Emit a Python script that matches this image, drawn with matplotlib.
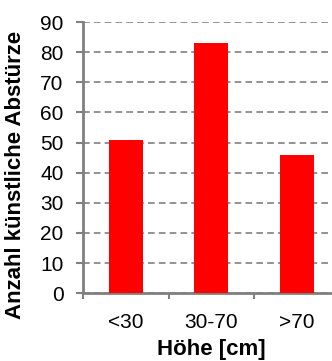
import matplotlib.pyplot as plt

plt.rcParams['font.family'] = ['Liberation Sans', 'DejaVu Sans']

# Daten
kategorien = ['<30', '30-70', '>70']
abstuerze = [51, 83, 46]

fig = plt.figure(figsize=(3.32, 3.61), dpi=100)
ax = fig.add_axes([0.25, 0.188, 0.773, 0.751])

x = range(len(kategorien))
ax.bar(x, abstuerze, width=0.4, color='#ff0000', zorder=3)

ax.set_xlim(-0.5, 2.5)
ax.set_ylim(0, 90)
ax.set_yticks(range(0, 91, 10))
ax.yaxis.grid(True, linestyle=(0, (4, 2.5)), color='#808080', linewidth=1.2, zorder=0)

# Striche zwischen den Kategorien, Beschriftung in der Mitte
ax.set_xticks([-0.5, 0.5, 1.5, 2.5])
ax.set_xticklabels([])
ax.set_xticks(list(x), minor=True)
ax.set_xticklabels(kategorien, minor=True)
ax.tick_params(axis='x', which='minor', length=0, pad=14, labelsize=15)
ax.tick_params(axis='x', which='major', length=4, width=1.5, color='#808080')
ax.tick_params(axis='y', length=5, width=1.5, color='#808080', labelsize=15, pad=9)

for s in ['top', 'right']:
    ax.spines[s].set_visible(False)
for s in ['left', 'bottom']:
    ax.spines[s].set_color('#808080')
    ax.spines[s].set_linewidth(2)

ax.set_ylabel('Anzahl künstliche Abstürze', fontsize=16, fontweight='bold')
ax.yaxis.set_label_coords(-0.222, 0.435)
ax.set_xlabel('Höhe [cm]', fontsize=16, fontweight='bold')
ax.xaxis.set_label_coords(0.5, -0.17)

fig.savefig('out.png', dpi=100)
